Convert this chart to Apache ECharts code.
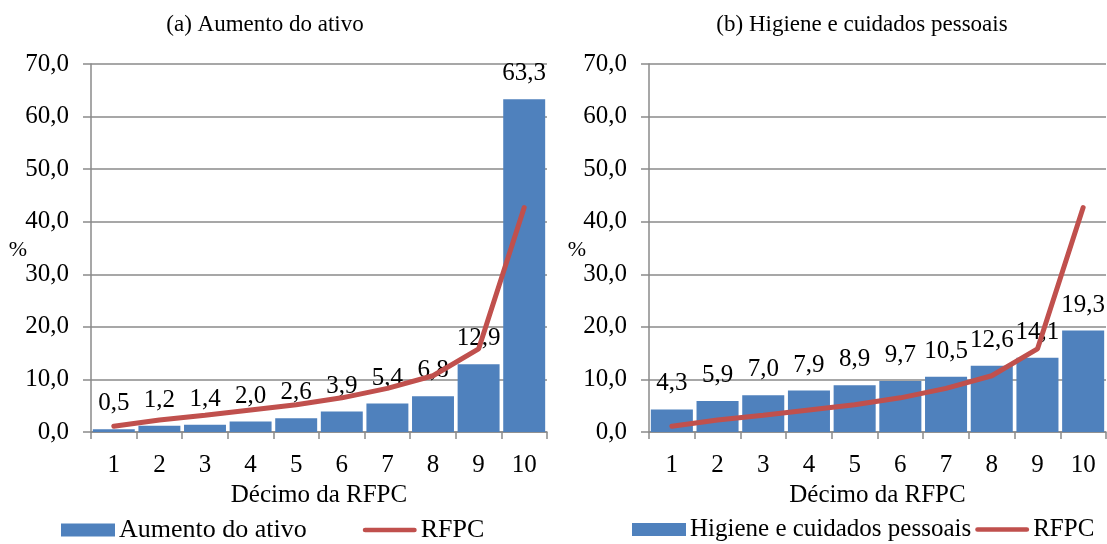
<!DOCTYPE html>
<html><head><meta charset="utf-8">
<script src="https://cdn.jsdelivr.net/npm/echarts@6/dist/echarts.min.js"></script>
<style>html,body{margin:0;padding:0;background:#fff}#c{width:1107px;height:544px}</style>
</head><body><div id="c"></div>
<script>
const categories = ['1','2','3','4','5','6','7','8','9','10'];
const aumentoAtivo = [0.5, 1.2, 1.4, 2.0, 2.6, 3.9, 5.4, 6.8, 12.9, 63.3];
const higiene = [4.3, 5.9, 7.0, 7.9, 8.9, 9.7, 10.5, 12.6, 14.1, 19.3];
const rfpc = [1.1, 2.3, 3.2, 4.2, 5.2, 6.5, 8.3, 10.7, 15.8, 42.7];
const yTicks = [0, 10, 20, 30, 40, 50, 60, 70];
const titles = ['(a) Aumento do ativo', '(b) Higiene e cuidados pessoais'];
const barNames = ['Aumento do ativo', 'Higiene e cuidados pessoais'];

const FONT = "'Liberation Serif','Times New Roman',serif";
const GRAY = '#8a8a8a';
const BLUE = '#4F81BD';
const RED = '#C0504D';
const fmt = v => v.toFixed(1).replace('.', ',');

const grids = [
  {left: 91, right: 560, top: 64, bottom: 112},
  {left: 649, right: 1, top: 64, bottom: 112}
];
const xAxes = grids.map((g, i) => ({
  type: 'category', gridIndex: i, data: categories, boundaryGap: true,
  axisLine: {lineStyle: {color: GRAY, width: 1.5}},
  axisTick: {show: true, length: 7, lineStyle: {color: GRAY, width: 1.5}},
  axisLabel: {color: '#000', fontFamily: FONT, fontSize: 25, margin: 21},
  name: 'Décimo da RFPC', nameLocation: 'middle', nameGap: 51,
  nameTextStyle: {color: '#000', fontFamily: FONT, fontSize: 25}
}));
const yAxes = grids.map((g, i) => ({
  type: 'value', gridIndex: i, min: yTicks[0], max: yTicks[yTicks.length - 1], interval: 10,
  axisLine: {show: true, lineStyle: {color: GRAY, width: 1.5}},
  axisTick: {show: true, length: 8, lineStyle: {color: GRAY, width: 1.5}},
  splitLine: {show: true, lineStyle: {color: GRAY, width: 1.5}},
  axisLabel: {color: '#000', fontFamily: FONT, fontSize: 25, margin: 22, formatter: fmt}
}));
const barData = [aumentoAtivo, higiene];
const series = [];
barData.forEach((d, i) => {
  series.push({
    type: 'bar', name: barNames[i], xAxisIndex: i, yAxisIndex: i, data: d,
    barCategoryGap: '8%', itemStyle: {color: BLUE},
    label: {show: true, position: 'top', distance: 13, color: '#000', fontFamily: FONT, fontSize: 25, formatter: p => fmt(p.value)},
    z: 2
  });
  series.push({
    type: 'line', name: 'RFPC', xAxisIndex: i, yAxisIndex: i, data: rfpc,
    symbol: 'none', showSymbol: false, lineStyle: {color: RED, width: 5, cap: 'round'}, itemStyle: {color: RED}, z: 3
  });
});
const lineIcon = 'path://M2.5,0 L54.5,0 A2.5,2.5 0 0 1 54.5,5 L2.5,5 A2.5,2.5 0 0 1 2.5,0 Z';
const legends = [
  {left: 61, width: 520, data: [{name: barNames[0], icon: 'rect'}, {name: 'RFPC', icon: lineIcon}], itemGap: 56,
   textStyle: {color: '#000', fontFamily: FONT, fontSize: 26, padding: [0, 0, 0, -1]}},
  {left: 632, width: 520, data: [{name: barNames[1], icon: 'rect'}, {name: 'RFPC', icon: lineIcon}], itemGap: 4,
   textStyle: {color: '#000', fontFamily: FONT, fontSize: 25, padding: [0, 0, 0, -1]}}
].map(l => Object.assign({
  top: 517, itemWidth: 54, itemHeight: 13, padding: 0, orient: 'horizontal'
}, l));

const chart = echarts.init(document.getElementById('c'), null, {renderer: 'canvas'});
chart.setOption({
  animation: false,
  backgroundColor: '#fff',
  grid: grids, xAxis: xAxes, yAxis: yAxes, series: series, legend: legends,
  graphic: [
    {type: 'text', x: 265, y: 25, style: {text: titles[0], fontFamily: FONT, fontSize: 23, fill: '#000', textAlign: 'center', textVerticalAlign: 'middle'}},
    {type: 'text', x: 862, y: 25, style: {text: titles[1], fontFamily: FONT, fontSize: 23, fill: '#000', textAlign: 'center', textVerticalAlign: 'middle'}},
    {type: 'text', x: 18, y: 250, style: {text: '%', fontFamily: FONT, fontSize: 22, fill: '#000', textAlign: 'center', textVerticalAlign: 'middle'}},
    {type: 'text', x: 577, y: 250, style: {text: '%', fontFamily: FONT, fontSize: 22, fill: '#000', textAlign: 'center', textVerticalAlign: 'middle'}}
  ]
});
</script></body></html>
